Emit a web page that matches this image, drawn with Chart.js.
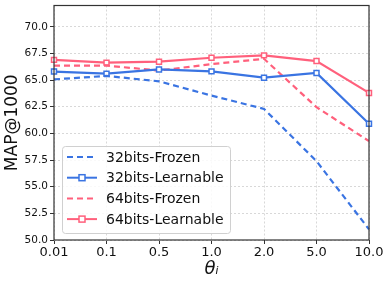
<!DOCTYPE html>
<html>
<head>
<meta charset="utf-8">
<script src="https://cdn.jsdelivr.net/npm/chart.js@4"></script>
<style>
  html, body { margin: 0; padding: 0; background: #fff; }
  #wrap { width: 390px; height: 283px; }
</style>
</head>
<body>
<div id="wrap"><canvas id="mapChart"></canvas></div>
<script>
// Data
const thetaLabels = ['0.01', '0.1', '0.5', '1.0', '2.0', '5.0', '10.0'];
const frozen32 = [65.07, 65.39, 64.89, 63.55, 62.3, 57.4, 51.0];
const learn32 = [65.8, 65.6, 66.0, 65.82, 65.23, 65.67, 60.9];
const frozen64 = [66.36, 66.36, 65.9, 66.5, 67.0, 62.46, 59.28];
const learn64 = [66.9, 66.64, 66.73, 67.1, 67.32, 66.79, 63.8];
const yTicks = [50.0, 52.5, 55.0, 57.5, 60.0, 62.5, 65.0, 67.5, 70.0];

const BLUE = '#3a74e2';
const PINK = '#ff607c';

// legend box drawn inside the plot, bottom-left
const innerLegend = {
    id: 'innerLegend',
    afterDraw(chart) {
        const ctx = chart.ctx;
        const x0 = 62, y0 = 146, w = 168, h = 87;
        ctx.save();
        ctx.fillStyle = 'rgba(255,255,255,0.85)';
        ctx.strokeStyle = '#d0d0d0';
        ctx.lineWidth = 1;
        ctx.beginPath();
        ctx.roundRect(x0 + 0.5, y0 + 0.5, w, h, 3);
        ctx.fill();
        ctx.stroke();
        ctx.font = '14px "DejaVu Sans"';
        ctx.textBaseline = 'middle';
        chart.data.datasets.forEach((ds, i) => {
            const y = 157 + i * 20.7;
            ctx.strokeStyle = ds.borderColor;
            ctx.lineWidth = 2;
            ctx.setLineDash(ds.borderDash || []);
            ctx.beginPath();
            ctx.moveTo(67, y);
            ctx.lineTo(97, y);
            ctx.stroke();
            ctx.setLineDash([]);
            if (ds.pointRadius > 0) {
                ctx.fillStyle = '#fff';
                ctx.lineWidth = 1.5;
                ctx.fillRect(79, y - 3, 6, 6);
                ctx.strokeRect(79, y - 3, 6, 6);
            }
            ctx.fillStyle = '#111';
            ctx.fillText(ds.label, 106, y + 1);
        });
        ctx.restore();
    }
};

// dark frame round the plot area
const frame = {
    id: 'frame',
    afterDatasetsDraw(chart) {
        const a = chart.chartArea;
        const ctx = chart.ctx;
        ctx.save();
        ctx.strokeStyle = '#333';
        ctx.lineWidth = 1.2;
        ctx.strokeRect(a.left, a.top, a.right - a.left, a.bottom - a.top);
        ctx.restore();
    }
};

function makeSet(label, data, color, dashed) {
    return {
        label: label,
        data: data,
        borderColor: color,
        backgroundColor: '#fff',
        borderWidth: 2.2,
        borderDash: dashed ? [6, 4] : [],
        pointStyle: 'rect',
        pointRadius: dashed ? 0 : 3.5,
        pointBorderWidth: 1.5,
        pointBorderColor: color,
        pointBackgroundColor: '#fff',
        tension: 0,
        clip: false
    };
}

new Chart(document.getElementById('mapChart'), {
    type: 'line',
    data: {
        labels: thetaLabels,
        datasets: [
            makeSet('32bits-Frozen', frozen32, BLUE, true),
            makeSet('32bits-Learnable', learn32, BLUE, false),
            makeSet('64bits-Frozen', frozen64, PINK, true),
            makeSet('64bits-Learnable', learn64, PINK, false)
        ]
    },
    options: {
        responsive: true,
        maintainAspectRatio: false,
        animation: false,
        layout: { padding: { top: 5, right: 21, left: 0, bottom: 0 } },
        scales: {
            x: {
                offset: false,
                grid: { color: '#d8d8d8', drawTicks: true, tickLength: 4, tickColor: '#333' },
                border: { dash: [2, 2], display: false },
                ticks: { color: '#111', font: { family: 'DejaVu Sans', size: 13 }, padding: 1, maxRotation: 0 },
                title: {
                    display: true,
                    text: 'θᵢ',
                    color: '#111',
                    font: { family: 'DejaVu Sans', size: 18, style: 'italic' },
                    padding: { top: 0, bottom: 3 }
                },
                afterFit(axis) { axis.height = 43; }
            },
            y: {
                min: 50,
                max: 72,
                afterBuildTicks(axis) { axis.ticks = yTicks.map(v => ({ value: v })); },
                grid: { color: '#d8d8d8', tickLength: 4, tickColor: '#333' },
                border: { dash: [2, 2], display: false },
                ticks: {
                    color: '#111',
                    font: { family: 'DejaVu Sans', size: 10.5 },
                    padding: 2,
                    callback: v => v.toFixed(1)
                },
                title: {
                    display: true,
                    text: 'MAP@1000',
                    color: '#111',
                    font: { family: 'DejaVu Sans', size: 17 },
                    padding: { top: 2, bottom: 2 }
                },
                afterFit(axis) {
                    axis.width = 54;
                    axis.paddingTop = 0;
                    axis.paddingBottom = 0;
                }
            }
        },
        plugins: {
            legend: { display: false },
            tooltip: { enabled: false }
        }
    },
    plugins: [frame, innerLegend]
});
</script>
</body>
</html>
